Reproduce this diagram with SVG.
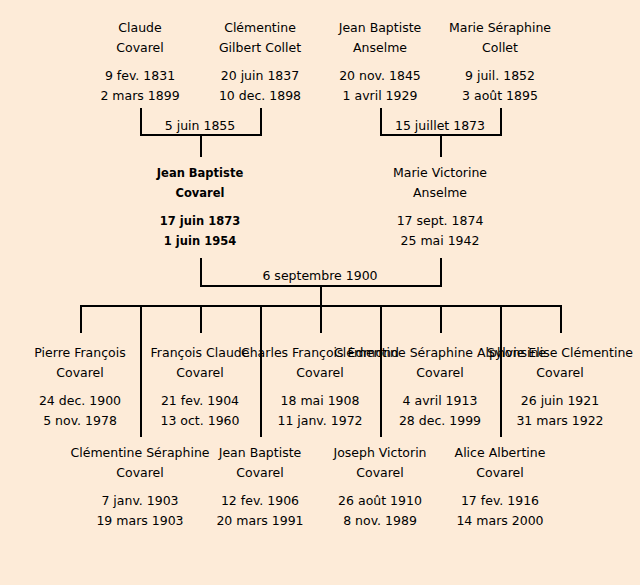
<svg xmlns="http://www.w3.org/2000/svg" width="640" height="585" viewBox="0 0 640 585">
<style>
text{font-family:"DejaVu Sans","Liberation Sans",sans-serif;font-size:12.5px;fill:#000;text-anchor:middle}
.b{font-weight:bold;font-size:11.5px}
.c{fill:none;stroke:#000;stroke-width:2}
</style>
<rect width="640" height="585" fill="#fdebd8"/>
<g id="n-claude"><text x="140" y="32">Claude</text><text x="140" y="52">Covarel</text><text x="140" y="80">9 fev. 1831</text><text x="140" y="100">2 mars 1899</text></g>
<g id="n-clementine"><text x="260" y="32">Clémentine</text><text x="260" y="52">Gilbert Collet</text><text x="260" y="80">20 juin 1837</text><text x="260" y="100">10 dec. 1898</text></g>
<g id="n-jb-anselme"><text x="380" y="32">Jean Baptiste</text><text x="380" y="52">Anselme</text><text x="380" y="80">20 nov. 1845</text><text x="380" y="100">1 avril 1929</text></g>
<g id="n-marie-seraphine"><text x="500" y="32">Marie Séraphine</text><text x="500" y="52">Collet</text><text x="500" y="80">9 juil. 1852</text><text x="500" y="100">3 août 1895</text></g>
<g id="n-jb-covarel"><text class="b" x="200" y="177">Jean Baptiste</text><text class="b" x="200" y="197">Covarel</text><text class="b" x="200" y="225">17 juin 1873</text><text class="b" x="200" y="245">1 juin 1954</text></g>
<g id="n-marie-victorine"><text x="440" y="177">Marie Victorine</text><text x="440" y="197">Anselme</text><text x="440" y="225">17 sept. 1874</text><text x="440" y="245">25 mai 1942</text></g>
<g id="n-pierre"><text x="80" y="357">Pierre François</text><text x="80" y="377">Covarel</text><text x="80" y="405">24 dec. 1900</text><text x="80" y="425">5 nov. 1978</text></g>
<g id="n-francois"><text x="200" y="357">François Claude</text><text x="200" y="377">Covarel</text><text x="200" y="405">21 fev. 1904</text><text x="200" y="425">13 oct. 1960</text></g>
<g id="n-charles"><text x="320" y="357">Charles François Edmond</text><text x="320" y="377">Covarel</text><text x="320" y="405">18 mai 1908</text><text x="320" y="425">11 janv. 1972</text></g>
<g id="n-clementine-s-a"><text x="440" y="357">Clémentine Séraphine Alphonsine</text><text x="440" y="377">Covarel</text><text x="440" y="405">4 avril 1913</text><text x="440" y="425">28 dec. 1999</text></g>
<g id="n-sylvie"><text x="560" y="357">Sylvie Elise Clémentine</text><text x="560" y="377">Covarel</text><text x="560" y="405">26 juin 1921</text><text x="560" y="425">31 mars 1922</text></g>
<g id="n-clementine-s"><text x="140" y="457">Clémentine Séraphine</text><text x="140" y="477">Covarel</text><text x="140" y="505">7 janv. 1903</text><text x="140" y="525">19 mars 1903</text></g>
<g id="n-jb-1906"><text x="260" y="457">Jean Baptiste</text><text x="260" y="477">Covarel</text><text x="260" y="505">12 fev. 1906</text><text x="260" y="525">20 mars 1991</text></g>
<g id="n-joseph"><text x="380" y="457">Joseph Victorin</text><text x="380" y="477">Covarel</text><text x="380" y="505">26 août 1910</text><text x="380" y="525">8 nov. 1989</text></g>
<g id="n-alice"><text x="500" y="457">Alice Albertine</text><text x="500" y="477">Covarel</text><text x="500" y="505">17 fev. 1916</text><text x="500" y="525">14 mars 2000</text></g>
<g id="connectors">
<path class="c" d="M141 108V135H261V108M201 135V157"/>
<text x="200" y="130">5 juin 1855</text>
<path class="c" d="M381 108V135H501V108M441 135V157"/>
<text x="440" y="130">15 juillet 1873</text>
<path class="c" d="M201 258V286H441V258M321 286V306"/>
<text x="320" y="280">6 septembre 1900</text>
<path class="c" d="M81 333V306H561V333M201 306V333M321 306V333M441 306V333"/>
<path class="c" d="M141 306V437M261 306V437M381 306V437M501 306V437"/>
</g>
</svg>
